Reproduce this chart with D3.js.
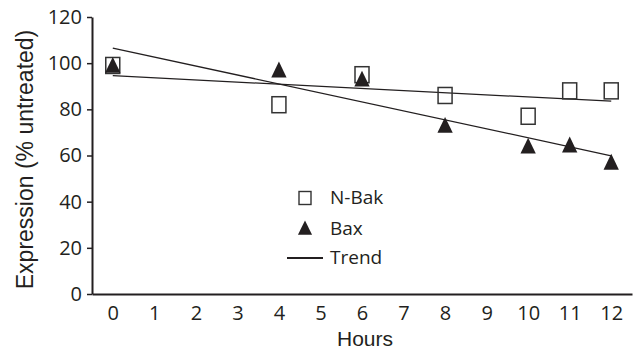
<!DOCTYPE html>
<html>
<head>
<meta charset="utf-8">
<script src="https://cdn.jsdelivr.net/npm/d3@7"></script>
<style>
  body { margin: 0; background: #fff; }
  .eixo .domain { stroke: #231f20; stroke-width: 2px; }
  .eixo line { stroke: #231f20; stroke-width: 1.5px; }
  .eixo text { font-family: "Open Sans", sans-serif; font-size: 20px; fill: #231f20; }
</style>
</head>
<body>
<svg id="grafico" width="638" height="351"></svg>
<script>
// dados
const hours = [0, 4, 6, 8, 10, 11, 12];
const nbak = [99, 82, 95, 86, 77, 88, 88];
const bax = [99, 97, 93, 73, 64, 64.5, 57];
const xTicks = [0, 1, 2, 3, 4, 5, 6, 7, 8, 9, 10, 11, 12];
const yTicks = [0, 20, 40, 60, 80, 100, 120];
const legendLabels = ["N-Bak", "Bax", "Trend"];

const width = 638, height = 351;
const margin = {top: 17, right: 6, bottom: 57, left: 92};
const w = width - margin.left - margin.right;
const h = height - margin.top - margin.bottom;
const cor = "#231f20";

const svg = d3.select("#grafico");
const g = svg.append("g")
    .attr("transform", "translate(" + margin.left + "," + margin.top + ")");

// escalas
const x = d3.scaleLinear().domain([-0.5, 12.5]).range([0, w]);
const y = d3.scaleLinear().domain([0, 120]).range([h, 0]);

// eixo Y
g.append("g")
    .attr("class", "eixo")
    .call(d3.axisLeft(y).tickValues(yTicks).tickSize(5).tickSizeOuter(0).tickPadding(5));

// eixo X (sem marcas)
g.append("g")
    .attr("class", "eixo")
    .attr("transform", "translate(0," + h + ")")
    .call(d3.axisBottom(x).tickValues(xTicks).tickSize(0).tickSizeOuter(0).tickPadding(12));

// regressão linear simples para a linha de tendência
function tendencia(xs, ys) {
    const mx = d3.mean(xs), my = d3.mean(ys);
    let sxy = 0, sxx = 0;
    xs.forEach(function(v, i) { sxy += (v - mx) * (ys[i] - my); sxx += (v - mx) * (v - mx); });
    const b = sxy / sxx;
    const a = my - b * mx;
    const x0 = d3.min(xs), x1 = d3.max(xs);
    return [[x0, a + b * x0], [x1, a + b * x1]];
}

const linha = d3.line()
    .x(function(d) { return x(d[0]); })
    .y(function(d) { return y(d[1]); });

[nbak, bax].forEach(function(serie) {
    g.append("path")
        .attr("d", linha(tendencia(hours, serie)))
        .attr("fill", "none")
        .attr("stroke", cor)
        .attr("stroke-width", 1.3);
});

const sq = {w: 14, h: 16};
const tri = d3.symbol().type(d3.symbolTriangle).size(120);

// quadrados N-Bak
g.selectAll(".nbak")
    .data(hours.map(function(d, i) { return {x: d, v: nbak[i]}; }))
    .enter()
    .append("rect")
    .attr("x", function(d) { return x(d.x) - sq.w / 2; })
    .attr("y", function(d) { return y(d.v) - sq.h / 2; })
    .attr("width", sq.w)
    .attr("height", sq.h)
    .attr("fill", "none")
    .attr("stroke", "#333")
    .attr("stroke-width", 1.5);

// triângulos Bax
g.selectAll(".bax")
    .data(hours.map(function(d, i) { return {x: d, v: bax[i]}; }))
    .enter()
    .append("path")
    .attr("d", tri)
    .attr("transform", function(d) { return "translate(" + x(d.x) + "," + (y(d.v) + 2) + ") scale(0.92,1.1)"; })
    .attr("fill", cor);

// legenda
const leg = svg.append("g");
const legY = [198, 229, 258];
leg.append("rect")
    .attr("x", 299).attr("y", legY[0] - 6.5)
    .attr("width", 12).attr("height", 13)
    .attr("fill", "none").attr("stroke", "#333").attr("stroke-width", 1.4);
leg.append("path")
    .attr("d", tri)
    .attr("transform", "translate(305," + (legY[1] + 1) + ") scale(0.85,1.0)")
    .attr("fill", cor);
leg.append("line")
    .attr("x1", 287).attr("x2", 323)
    .attr("y1", legY[2]).attr("y2", legY[2])
    .attr("stroke", cor).attr("stroke-width", 2);
leg.selectAll("text")
    .data(legendLabels)
    .enter()
    .append("text")
    .attr("x", 330)
    .attr("y", function(d, i) { return legY[i] + 6; })
    .style("font-family", "'Open Sans', sans-serif")
    .style("font-size", "19px")
    .attr("fill", cor)
    .text(function(d) { return d; });

// títulos dos eixos
svg.append("text")
    .attr("transform", "translate(33," + (margin.top + h / 2 + 4) + ") rotate(-90)")
    .attr("text-anchor", "middle")
    .style("font-family", "'Liberation Sans', Arial, sans-serif")
    .style("font-size", "23px")
    .attr("fill", cor)
    .text("Expression (% untreated)");

svg.append("text")
    .attr("x", 365)
    .attr("y", 346)
    .attr("text-anchor", "middle")
    .style("font-family", "'Liberation Sans', Arial, sans-serif")
    .style("font-size", "21px")
    .attr("fill", cor)
    .text("Hours");
</script>
</body>
</html>
